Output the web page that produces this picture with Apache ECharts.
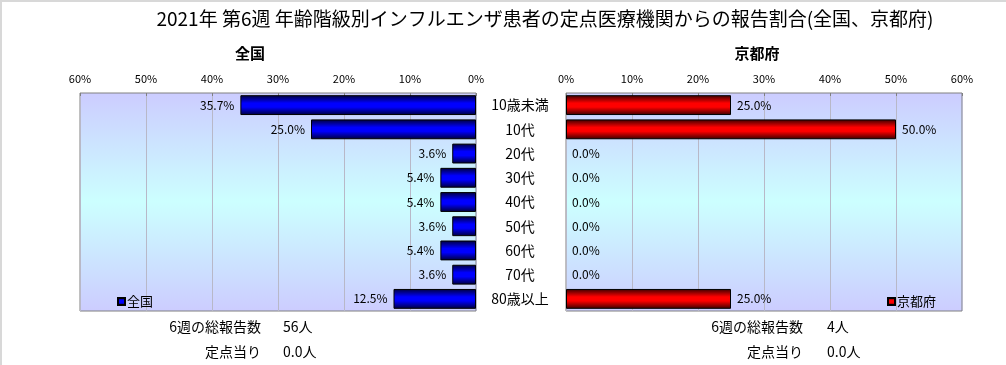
<!DOCTYPE html>
<html><head><meta charset="utf-8">
<script src="https://cdn.jsdelivr.net/npm/echarts@6/dist/echarts.min.js"></script>
<style>html,body{margin:0;padding:0;background:#fff}#wrap{position:relative;width:1006px;height:365px}#c{width:1006px;height:365px}#frame{position:absolute;left:0;top:0;width:1006px;height:365px;box-sizing:border-box;border-top:2px solid #d8d8d8;border-left:2px solid #d8d8d8;pointer-events:none}</style>
</head><body><div id="wrap"><div id="c"></div><div id="frame"></div></div>
<script>
const categories = ['10歳未満','10代','20代','30代','40代','50代','60代','70代','80歳以上'];
const nationalValues = [35.7, 25.0, 3.6, 5.4, 5.4, 3.6, 5.4, 3.6, 12.5];
const kyotoValues = [25.0, 50.0, 0.0, 0.0, 0.0, 0.0, 0.0, 0.0, 25.0];
const xTicks = [0, 10, 20, 30, 40, 50, 60];
const titleText = '2021年 第6週 年齢階級別インフルエンザ患者の定点医療機関からの報告割合(全国、京都府)';
const nationalInfo = {total: '56人', perPoint: '0.0人'};
const kyotoInfo = {total: '4人', perPoint: '0.0人'};

const FONT = '"Noto Sans CJK JP", sans-serif';
const chart = echarts.init(document.getElementById('c'), null, {renderer: 'canvas'});
const bgGrad = new echarts.graphic.LinearGradient(0, 0, 0, 1, [
  {offset: 0, color: '#ccccff'}, {offset: 0.5, color: '#ccffff'}, {offset: 1, color: '#ccccff'}]);
function barGrad(dark, bright) {
  return new echarts.graphic.LinearGradient(0, 0, 0, 1, [
    {offset: 0, color: dark}, {offset: 0.4, color: bright}, {offset: 0.6, color: bright}, {offset: 1, color: dark}]);
}
function barData(vals) {
  return vals.map(v => ({value: v, itemStyle: {borderWidth: v === 0 ? 0 : 1}}));
}
function xAxisCfg(gridIndex, inverse) {
  return {
    type: 'value', gridIndex, position: 'top', inverse, min: xTicks[0], max: xTicks[xTicks.length - 1], interval: 10,
    axisLabel: {formatter: v => v + '%', fontFamily: FONT, fontSize: 11, color: '#000', margin: 9},
    axisLine: {show: false},
    axisTick: {show: true, inside: true, length: 3, lineStyle: {color: '#808080'}},
    splitLine: {show: true, lineStyle: {color: '#b8b8c8', width: 1}}
  };
}
const labelCommon = {show: true, fontFamily: FONT, fontSize: 12, color: '#000', formatter: p => p.value.toFixed(1) + '%'};
const txt = 14;
const option = {
  animation: false,
  textStyle: {fontFamily: FONT},
  title: [
    {text: titleText, left: 540, textAlign: 'center', top: 4, textStyle: {fontFamily: FONT, fontSize: 19, fontWeight: 'normal', color: '#000'}},
    {text: '全国', left: 245, textAlign: 'center', top: 41, textStyle: {fontFamily: FONT, fontSize: 15, fontWeight: 'bold', color: '#000'}},
    {text: '京都府', left: 752, textAlign: 'center', top: 41, textStyle: {fontFamily: FONT, fontSize: 15, fontWeight: 'bold', color: '#000'}}
  ],
  legend: [
    {data: ['全国'], left: 112, top: 290, itemWidth: 7, itemHeight: 7, itemGap: 2, icon: 'rect',
      textStyle: {fontFamily: FONT, fontSize: 13, color: '#000', padding: [0,0,0,-3]}},
    {data: ['京都府'], left: 882, top: 290, itemWidth: 7, itemHeight: 7, itemGap: 2, icon: 'rect',
      textStyle: {fontFamily: FONT, fontSize: 13, color: '#000', padding: [0,0,0,-3]}}
  ],
  grid: [
    {left: 80, width: 396, top: 93, height: 218, show: true, backgroundColor: bgGrad, borderColor: '#808080', borderWidth: 1},
    {left: 566, width: 396, top: 93, height: 218, show: true, backgroundColor: bgGrad, borderColor: '#808080', borderWidth: 1}
  ],
  xAxis: [xAxisCfg(0, true), xAxisCfg(1, false)],
  yAxis: [
    {type: 'category', gridIndex: 0, data: categories, inverse: true, axisLabel: {show: false}, axisLine: {show: false}, axisTick: {show: false}},
    {type: 'category', gridIndex: 1, data: categories, inverse: true,
      axisLabel: {show: true, align: 'center', margin: 46, fontFamily: FONT, fontSize: 14, color: '#000'},
      axisLine: {show: false}, axisTick: {show: false}}
  ],
  series: [
    {name: '全国', type: 'bar', xAxisIndex: 0, yAxisIndex: 0, data: barData(nationalValues), barCategoryGap: '18%',
      itemStyle: {color: barGrad('#000038', '#0000ff'), borderColor: '#000', borderWidth: 1},
      label: Object.assign({position: 'left', distance: 6}, labelCommon)},
    {name: '京都府', type: 'bar', xAxisIndex: 1, yAxisIndex: 1, data: barData(kyotoValues), barCategoryGap: '18%',
      itemStyle: {color: barGrad('#380000', '#ff0000'), borderColor: '#000', borderWidth: 1},
      label: Object.assign({position: 'right', distance: 6}, labelCommon)}
  ],
  graphic: [
    {type: 'text', x: 261, y: 327, style: {text: '6週の総報告数', font: txt + 'px ' + FONT, fill: '#000', align: 'right', verticalAlign: 'middle'}},
    {type: 'text', x: 283, y: 327, style: {text: nationalInfo.total, font: txt + 'px ' + FONT, fill: '#000', align: 'left', verticalAlign: 'middle'}},
    {type: 'text', x: 261, y: 352, style: {text: '定点当り', font: txt + 'px ' + FONT, fill: '#000', align: 'right', verticalAlign: 'middle'}},
    {type: 'text', x: 283, y: 352, style: {text: nationalInfo.perPoint, font: txt + 'px ' + FONT, fill: '#000', align: 'left', verticalAlign: 'middle'}},
    {type: 'text', x: 803, y: 327, style: {text: '6週の総報告数', font: txt + 'px ' + FONT, fill: '#000', align: 'right', verticalAlign: 'middle'}},
    {type: 'text', x: 827, y: 327, style: {text: kyotoInfo.total, font: txt + 'px ' + FONT, fill: '#000', align: 'left', verticalAlign: 'middle'}},
    {type: 'text', x: 803, y: 352, style: {text: '定点当り', font: txt + 'px ' + FONT, fill: '#000', align: 'right', verticalAlign: 'middle'}},
    {type: 'text', x: 827, y: 352, style: {text: kyotoInfo.perPoint, font: txt + 'px ' + FONT, fill: '#000', align: 'left', verticalAlign: 'middle'}}
  ]
};
chart.setOption(option);
</script></body></html>
